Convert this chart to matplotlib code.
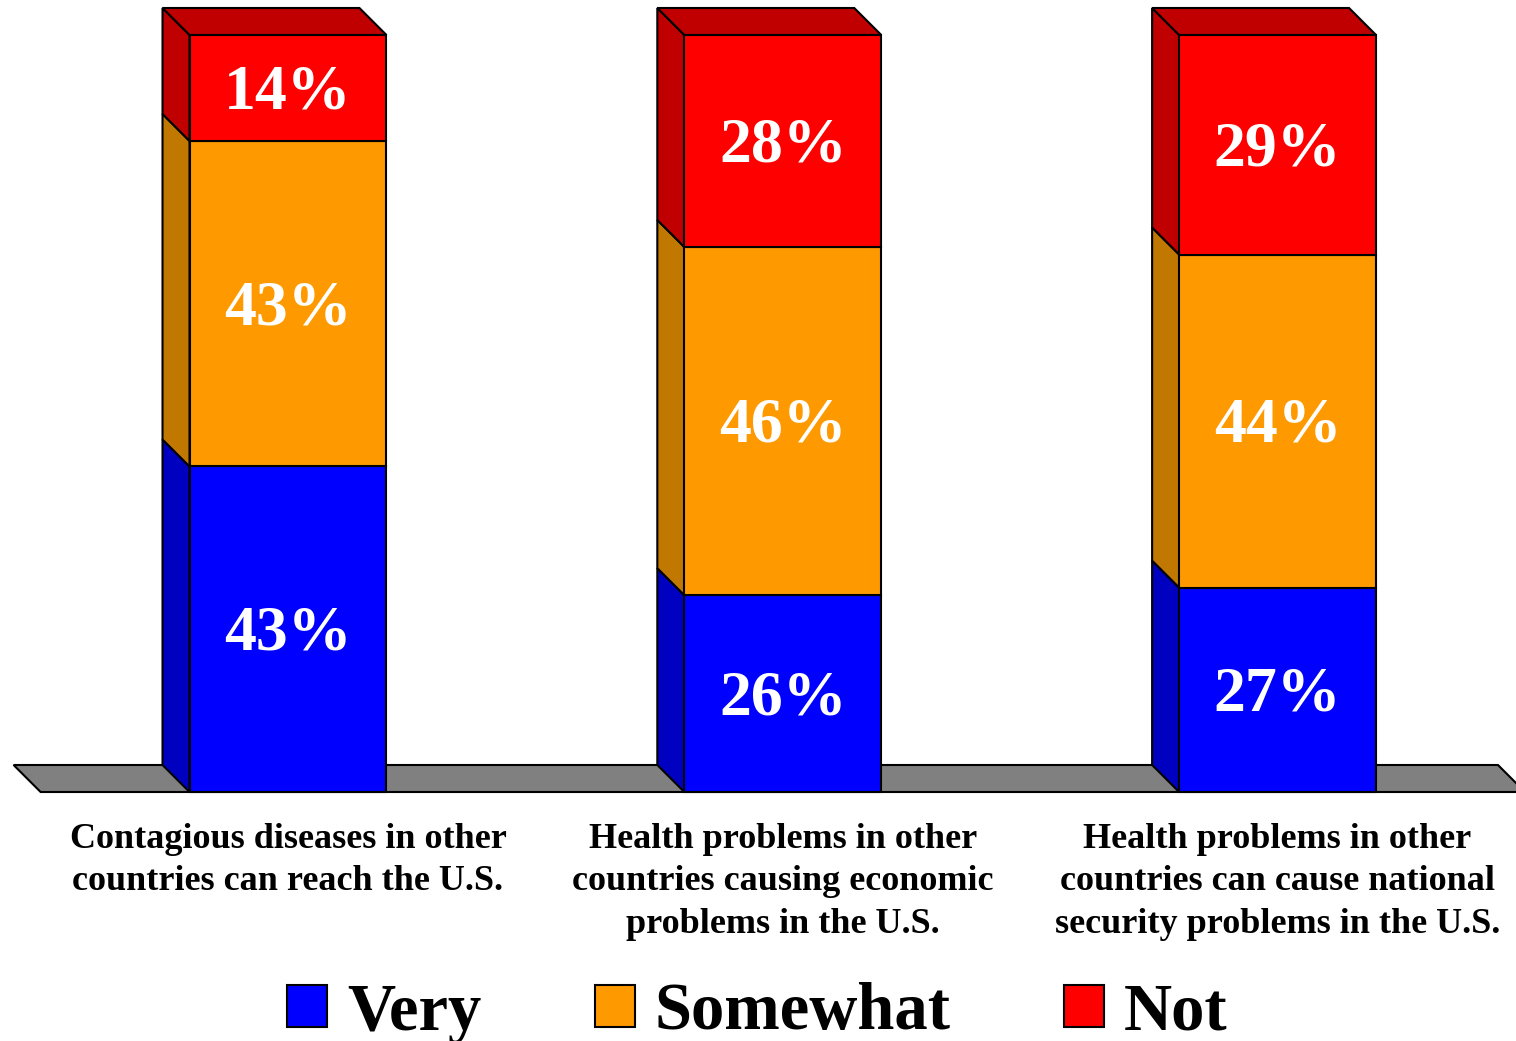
import matplotlib.pyplot as plt
from matplotlib.patches import Polygon, Patch

# data
categories = [
    "Contagious diseases in other\ncountries can reach the U.S.",
    "Health problems in other\ncountries causing economic\nproblems in the U.S.",
    "Health problems in other\ncountries can cause national\nsecurity problems in the U.S.",
]
very = [43, 26, 27]
somewhat = [43, 46, 44]
not_concerned = [14, 28, 29]
series_names = ["Very", "Somewhat", "Not"]

front_colors = ["#0000FF", "#FF9900", "#FF0000"]
side_colors = ["#0000C0", "#C07800", "#C00000"]
floor_color = "#808080"

serif = "Liberation Serif"
bar_w = 0.398
dx, dy = -0.0546, 3.567  # depth offset of the fake 3D effect

fig = plt.figure(figsize=(15.16, 10.41), dpi=100)
ax = fig.add_axes([40.6 / 1516, 1 - 792 / 1041, 1484.4 / 1516, 757 / 1041])
ax.set_xlim(-0.5, 2.5)
ax.set_ylim(0, 100)
ax.axis("off")

# floor
x0, x1 = ax.get_xlim()
floor = Polygon([(x0, 0), (x1, 0), (x1 + dx, dy), (x0 + dx, dy)], closed=True,
                facecolor=floor_color, edgecolor="black", lw=1.5, zorder=1, clip_on=False)
ax.add_patch(floor)

xs = list(range(len(categories)))
bottoms = [0] * len(xs)
for vals, fc, sc in zip([very, somewhat, not_concerned], front_colors, side_colors):
    ax.bar(xs, vals, bottom=bottoms, width=bar_w, color=fc, edgecolor="black",
           lw=1.5, zorder=3, clip_on=False)
    for x, b, v in zip(xs, bottoms, vals):
        left = x - bar_w / 2
        side = Polygon([(left, b), (left + dx, b + dy), (left + dx, b + v + dy), (left, b + v)],
                       closed=True, facecolor=sc, edgecolor="black", lw=1.5, zorder=2, clip_on=False)
        ax.add_patch(side)
        ax.text(x, b + v / 2 + 0.2, f"{v}%", ha="center", va="center_baseline", color="white",
                fontsize=46, fontweight="bold", family=serif, zorder=5)
    bottoms = [b + v for b, v in zip(bottoms, vals)]

# top faces
for x, top in zip(xs, bottoms):
    left, right = x - bar_w / 2, x + bar_w / 2
    lid = Polygon([(left, top), (left + dx, top + dy), (right + dx, top + dy), (right, top)],
                  closed=True, facecolor=side_colors[2], edgecolor="black", lw=1.5,
                  zorder=2, clip_on=False)
    ax.add_patch(lid)

# category labels
for x, cat in zip(xs, categories):
    ax.text(x, -4.1, cat, ha="center", va="top", fontsize=26, fontweight="bold",
            family=serif, linespacing=1.37, clip_on=False)

handles = [Patch(facecolor=c, edgecolor="black", lw=1.5) for c in front_colors]
fig.legend(handles, series_names, loc="center", bbox_to_anchor=(757.5 / 1516, 1 - 1013 / 1041),
           ncol=3, frameon=False, prop=dict(family=serif, weight="bold", size=48),
           handlelength=0.6, handleheight=0.6, handletextpad=0.3, columnspacing=1.7)

fig.savefig("out.png", dpi=100)
